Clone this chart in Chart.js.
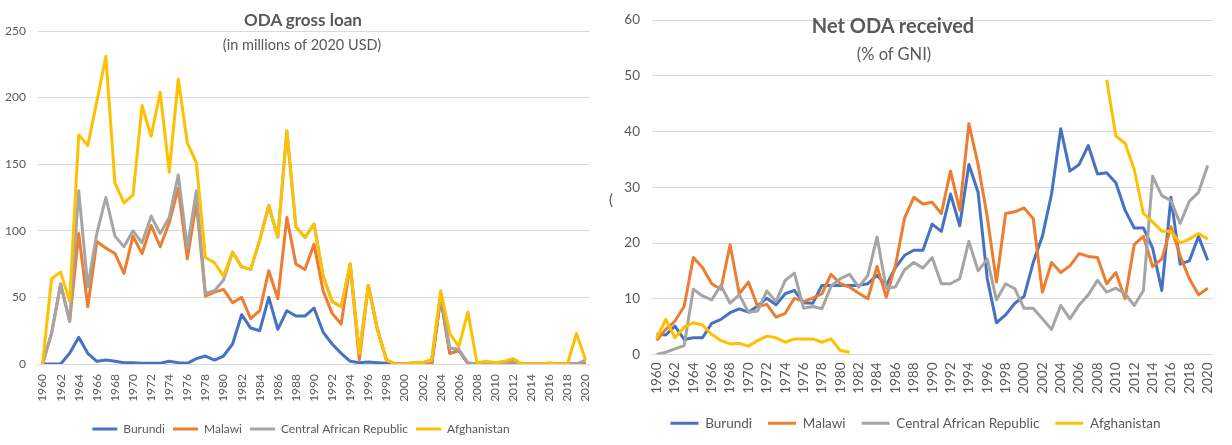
<!DOCTYPE html>
<html>
<head>
<meta charset="utf-8">
<script src="https://cdn.jsdelivr.net/npm/chart.js@4.4.1/dist/chart.umd.min.js"></script>
<style>
  body { margin: 0; background: #fff; width: 1232px; height: 445px; overflow: hidden; position: relative; font-family: Lato, sans-serif; color: #595959; }
  canvas { position: absolute; top: 0; }
  #loanChart { left: 0; }
  #gniChart { left: 610px; }
  .title, .sub, .stray { position: absolute; white-space: nowrap; line-height: 1; }
  .title { font-weight: bold; transform: translateX(-50%); }
  .sub { transform: translateX(-50%); }
</style>
</head>
<body>
<canvas id="loanChart" width="610" height="445"></canvas>
<canvas id="gniChart" width="622" height="445"></canvas>
<div class="title" style="left:303px; top:11px; font-size:17px">ODA gross loan</div>
<div class="sub" style="left:302px; top:38px; font-size:14.5px">(in millions of 2020 USD)</div>
<div class="title" style="left:893px; top:15px; font-size:20px">Net ODA received</div>
<div class="sub" style="left:894px; top:46px; font-size:16.5px">(% of GNI)</div>
<div class="stray" style="left:609px; top:192px; font-size:15px">(</div>
<script>
// Categories
const years = [1960, 1961, 1962, 1963, 1964, 1965, 1966, 1967, 1968, 1969,
  1970, 1971, 1972, 1973, 1974, 1975, 1976, 1977, 1978, 1979,
  1980, 1981, 1982, 1983, 1984, 1985, 1986, 1987, 1988, 1989,
  1990, 1991, 1992, 1993, 1994, 1995, 1996, 1997, 1998, 1999,
  2000, 2001, 2002, 2003, 2004, 2005, 2006, 2007, 2008, 2009,
  2010, 2011, 2012, 2013, 2014, 2015, 2016, 2017, 2018, 2019, 2020];

const countries = ['Burundi', 'Malawi', 'Central African Republic', 'Afghanistan'];
const colors = ['#4472C4', '#ED7D31', '#A5A5A5', '#FFC000'];

// ODA gross loan, millions of 2020 USD (the original is a stacked line chart,
// so these are each country's own share, read as gaps between the lines)
const loanBurundi = [0, 0, 0, 8, 20, 8, 2, 3, 2, 1, 1, 0.5, 0.5, 0.5, 2, 1, 0.5, 4, 6, 3,
  6, 15, 37, 27, 25, 50, 26, 40, 36, 36, 42, 24, 15, 8, 2, 1, 1.5, 1, 0.5, 0,
  0, 0, 0, 0, 50, 8, 10, 0.5, 0, 0, 0, 0, 0, 0, 0, 0, 0, 0, 0, 0, 0.5];
const loanMalawi = [0, 23, 60, 24, 78, 35, 90, 84, 81, 67, 95, 82.5, 103.5, 87.5, 104, 131, 78.5, 117, 45, 51,
  50, 31, 13, 7, 15, 20, 23, 70, 39, 35, 48, 31, 23, 22, 73, 2, 57.5, 25, 2.5, 0,
  0, 0, 0, 0, 0, 0, 0, 0, 0, 0, 0, 0, 0, 0, 0, 0, 0, 0, 0, 0, 0];
const loanCAR = [0, 0, 0, 0, 32, 15, 6, 38, 13, 20, 4, 8, 7, 10, 4, 10, 8, 9, 2, 1,
  7, 38, 23, 37, 53, 49, 46, 65, 28, 24, 15, 11, 9, 13, 0, 5, 0, 0, 0, 0,
  0, 1, 1, 3, 3, 4, 1, 0.5, 0, 0, 0, 1, 2, 0, 0, 0, 0, 0, 0, 0, 2.5];
const loanAfghanistan = [0, 41, 9, 15, 42, 106, 99, 106, 40, 33, 27, 103, 60, 106, 34, 72, 79, 21, 27, 21,
  3, 0, 0, 0, 0, 0, 0, 0, 0, 0, 0, 0, 0, 0, 0, 0, 0, 0, 0, 0,
  0, 0, 0, 0, 2, 11, 2, 38, 1, 2, 1, 1, 2, 0, 0, 0, 1, 0, 0, 23, 0];

// Net ODA received, % of GNI
const gniBurundi = [3.7, 3.5, 5.1, 2.7, 3.0, 3.0, 5.6, 6.3, 7.5, 8.2, 7.6, 8.7, 10.1, 8.9, 10.9, 11.5, 9.3, 9.2, 12.4, 12.4,
  12.4, 12.4, 12.4, 12.7, 14.2, 12.4, 15.6, 17.8, 18.7, 18.7, 23.4, 22.1, 28.8, 23.1, 34.1, 29.1, 13.6, 5.7, 7.1, 9.2,
  10.4, 16.5, 21.2, 28.8, 40.5, 32.9, 34.1, 37.5, 32.4, 32.6, 30.8, 25.9, 22.7, 22.7, 19.1, 11.5, 28.2, 16.2, 16.8, 21.2, 16.9];
const gniMalawi = [2.5, 4.5, 6.0, 8.6, 17.4, 15.6, 12.7, 11.7, 19.7, 10.9, 13.0, 8.6, 9.0, 6.7, 7.4, 10.1, 9.5, 10.1, 10.9, 14.4,
  12.7, 12.1, 11.0, 10.0, 15.8, 10.3, 15.9, 24.5, 28.2, 27.0, 27.3, 25.3, 32.9, 25.9, 41.4, 34.1, 24.7, 13.0, 25.3, 25.6,
  26.3, 24.4, 11.2, 16.5, 14.7, 15.9, 18.1, 17.6, 17.4, 12.7, 14.7, 10.0, 19.7, 21.2, 15.8, 17.1, 22.9, 17.7, 13.6, 10.7, 11.9];
const gniCAR = [0, 0.4, 1.0, 1.6, 11.7, 10.5, 9.8, 12.4, 9.2, 10.7, 7.6, 7.8, 11.4, 9.5, 13.3, 14.6, 8.3, 8.6, 8.2, 12.3,
  13.6, 14.4, 12.1, 14.2, 21.1, 11.9, 12.1, 15.2, 16.5, 15.5, 17.4, 12.7, 12.7, 13.6, 20.3, 15.0, 17.1, 9.8, 12.7, 11.8,
  8.3, 8.3, 6.4, 4.5, 8.8, 6.4, 8.9, 10.7, 13.3, 11.2, 11.9, 10.9, 8.8, 11.5, 32.0, 28.5, 27.6, 23.5, 27.5, 29.1, 33.9];
const gniAfghanistan = [2.9, 6.3, 3.0, 4.9, 5.7, 5.3, 3.6, 2.5, 1.9, 2.0, 1.5, 2.5, 3.3, 3.0, 2.2, 2.8, 2.8, 2.8, 2.2, 2.8,
  0.7, 0.4, null, null, null, null, null, null, null, null, null, null, null, null, null, null, null, null, null, null,
  null, null, null, null, null, null, null, null, null, 49.3, 39.2, 37.9, 33.2, 25.3, 23.8, 22.1, 22.1, 20.0, 20.7, 21.7, 20.7];

// Add each series onto the ones before it (stacked lines).
// Done here instead of with Chart.js stacking so Afghanistan can still be drawn on top.
function runningTotals(seriesList) {
  let prev = null;
  return seriesList.map(series => {
    const sum = series.map((v, i) => (prev ? prev[i] : 0) + v);
    prev = sum;
    return sum;
  });
}

function lineSets(seriesList) {
  return seriesList.map((data, i) => ({
    label: countries[i],
    data: data,
    borderColor: colors[i],
    backgroundColor: colors[i],
    borderWidth: 3,
    pointRadius: 0,
    tension: 0,
    fill: false,
    borderJoinStyle: 'round',
    order: seriesList.length - i
  }));
}

function makeOptions(cfg) {
  const font = { family: 'Lato', size: cfg.fontSize };
  return {
    responsive: false,
    animation: false,
    layout: { padding: cfg.padding },
    plugins: {
      tooltip: { enabled: false },
      legend: {
        position: 'bottom',
        labels: {
          font: font,
          color: '#595959',
          boxWidth: cfg.boxWidth,
          boxHeight: 3,
          padding: cfg.legendPadding,
          generateLabels: chart => chart.data.datasets.map((ds, i) => ({
            text: ds.label,
            fillStyle: ds.borderColor,
            strokeStyle: ds.borderColor,
            lineWidth: 0,
            fontColor: '#595959',
            hidden: false,
            datasetIndex: i
          }))
        }
      }
    },
    scales: {
      x: {
        offset: true,
        grid: { display: false, drawTicks: false },
        border: { display: false },
        afterFit: s => { s.height = cfg.xHeight; },
        ticks: {
          autoSkip: false,
          minRotation: 90,
          maxRotation: 90,
          padding: cfg.xPad,
          font: font,
          color: '#595959',
          callback: (val, idx) => (idx % 2 === 0 ? years[idx] : '')
        }
      },
      y: {
        min: 0,
        max: cfg.yMax,
        grid: { color: '#d9d9d9', lineWidth: 1, drawTicks: false },
        border: { display: false },
        afterFit: s => { s.width = cfg.yWidth; },
        ticks: { stepSize: cfg.yStep, padding: 12, font: font, color: '#595959' }
      }
    }
  };
}

new Chart(document.getElementById('loanChart'), {
  type: 'line',
  data: {
    labels: years,
    datasets: lineSets(runningTotals([loanBurundi, loanMalawi, loanCAR, loanAfghanistan]))
  },
  options: makeOptions({
    fontSize: 12, yMax: 250, yStep: 50, yWidth: 38, xHeight: 51, xPad: 10,
    boxWidth: 25, legendPadding: 8,
    padding: { top: 31, right: 8, bottom: 0, left: 0 }
  })
});

new Chart(document.getElementById('gniChart'), {
  type: 'line',
  data: {
    labels: years,
    datasets: lineSets([gniBurundi, gniMalawi, gniCAR, gniAfghanistan])
  },
  options: makeOptions({
    fontSize: 13.5, yMax: 60, yStep: 10, yWidth: 42, xHeight: 46, xPad: 8,
    boxWidth: 28, legendPadding: 16,
    padding: { top: 12, right: 11, bottom: 5, left: 0 }
  })
});
</script>
</body>
</html>
